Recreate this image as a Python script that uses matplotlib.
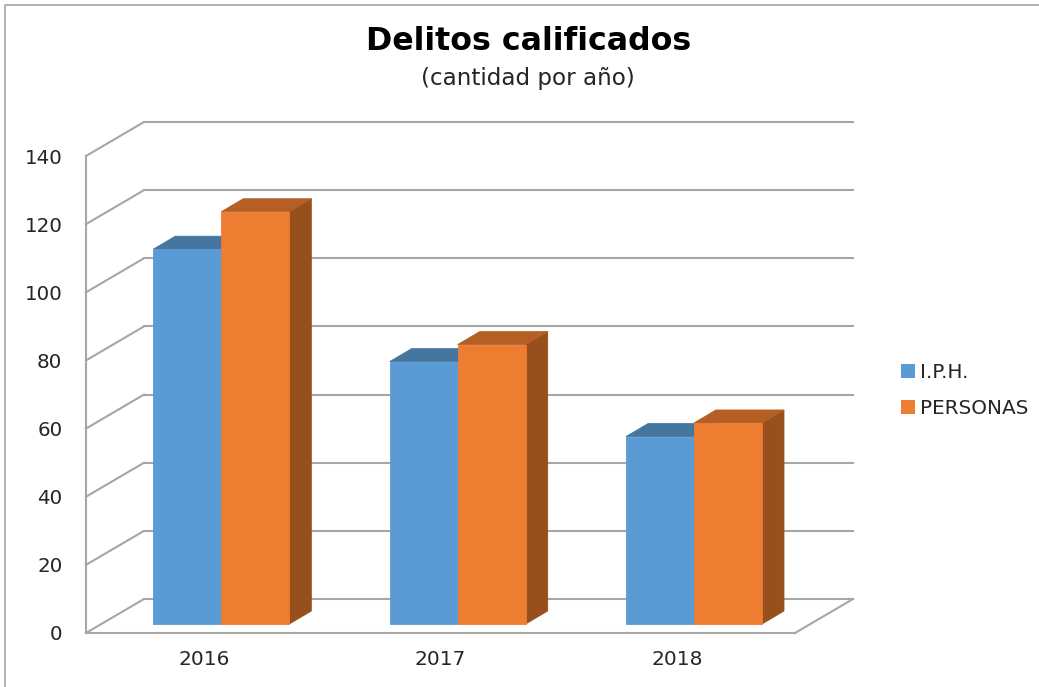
import matplotlib
matplotlib.use("Agg")
import matplotlib.pyplot as plt
from matplotlib.patches import Polygon, Patch
from matplotlib.transforms import Affine2D
from matplotlib.lines import Line2D

years = ["2016", "2017", "2018"]
iph = [110, 77, 55]
personas = [121, 82, 59]
y_ticks = [0, 20, 40, 60, 80, 100, 120, 140]
series_names = ["I.P.H.", "PERSONAS"]
title = "Delitos calificados"
subtitle = "(cantidad por año)"

W, H = 1039, 687
plt.rcParams["font.family"] = "DejaVu Sans"
fig = plt.figure(figsize=(W / 100, H / 100), dpi=100)
fig.patch.set_facecolor("white")

L, R, T, B = 86, 795, 156, 633
ax = fig.add_axes([L / W, 1 - B / H, (R - L) / W, (B - T) / H])
ax.set_xlim(0, 3)
ax.set_ylim(0, 140)
ax.patch.set_visible(False)
for s in ax.spines.values():
    s.set_visible(False)

GRID = "#a6a6a6"
WALL = (58, 34)         # depth of the back wall, px
BAR_FRONT = (19.5, 9)   # front face of bars behind the axis plane, px
BAR_DEPTH = (22, 13)    # depth of the bars, px
BAR_W = 68 / ((R - L) / 3)

base = ax.transData
wall_t = base + Affine2D().translate(*WALL)

for v in y_ticks:
    ax.add_line(Line2D([0, 3], [v, v], transform=wall_t, color=GRID, lw=1.5,
                       clip_on=False, zorder=1))
    x0, y0 = base.transform((0, v))
    x1, y1 = wall_t.transform((0, v))
    ax.add_line(Line2D([x0, x1], [y0, y1], transform=None, color=GRID, lw=1.5,
                       clip_on=False, zorder=1))
ax.add_line(Line2D([0, 0], [0, 140], color=GRID, lw=1.5, clip_on=False, zorder=1))
ax.add_line(Line2D([0, 3], [0, 0], color=GRID, lw=1.5, clip_on=False, zorder=1))
x0, y0 = base.transform((3, 0))
x1, y1 = wall_t.transform((3, 0))
ax.add_line(Line2D([x0, x1], [y0, y1], transform=None, color=GRID, lw=1.5,
                   clip_on=False, zorder=1))


def bar3d(xc, value, front, top, side, z):
    """Draw one 3-D column with its left edge at category position xc."""
    tf = base.transform
    ox, oy = BAR_FRONT
    dx, dy = BAR_DEPTH
    x0, y0 = tf((xc, 0))
    x1, y1 = tf((xc + BAR_W, value))
    x0 += ox; x1 += ox; y0 += oy; y1 += oy
    ax.add_patch(Polygon([(x1, y0), (x1 + dx, y0 + dy), (x1 + dx, y1 + dy), (x1, y1)],
                         closed=True, transform=None, fc=side, ec=side, lw=0.6, clip_on=False, zorder=z))
    ax.add_patch(Polygon([(x0, y1), (x0 + dx, y1 + dy), (x1 + dx, y1 + dy), (x1, y1)],
                         closed=True, transform=None, fc=top, ec=top, lw=0.6, clip_on=False, zorder=z))
    ax.add_patch(Polygon([(x0, y0), (x1, y0), (x1, y1), (x0, y1)],
                         closed=True, transform=None, fc=front, ec=front, lw=0.6, clip_on=False, zorder=z + 0.1))


C_I = ("#5b9bd5", "#44769f", "#44769f")
C_P = ("#ed7d31", "#b55f25", "#97501d")
for i in range(len(years)):
    c = i + 0.5 - 0.01
    bar3d(c - BAR_W, iph[i], C_I[0], C_I[1], C_I[2], 3)
    bar3d(c, personas[i], C_P[0], C_P[1], C_P[2], 4)

ax.set_yticks(y_ticks)
ax.set_xticks([i + 0.5 for i in range(len(years))])
ax.set_xticklabels(years)
ax.tick_params(axis="both", length=0, labelcolor="#262626")
ax.tick_params(axis="y", pad=17, labelsize=14.3)
ax.tick_params(axis="x", pad=12.5, labelsize=14.5)

fig.text(529 / W, 1 - 41 / H, title, ha="center", va="center",
         fontsize=22.8, fontweight="bold", color="black")
fig.text(528 / W, 1 - 79 / H, subtitle, ha="center", va="center",
         fontsize=16.6, color="#262626")

handles = [Patch(fc=C_I[0], ec="none"), Patch(fc=C_P[0], ec="none")]
leg = fig.legend(handles, series_names, loc="center left",
                 bbox_to_anchor=(901 / W, 1 - 390.5 / H), frameon=False,
                 fontsize=14.4, handlelength=0.7, handleheight=0.7,
                 handletextpad=0.25, labelspacing=0.85, borderpad=0, borderaxespad=0,
                 labelcolor="#262626")

fig.add_artist(Line2D([5 / W, 5 / W, 1], [0, 1 - 4.5 / H, 1 - 4.5 / H],
                      transform=fig.transFigure, color="#a6a6a6", lw=1.2))

fig.savefig("out.png", dpi=100, facecolor="white")
